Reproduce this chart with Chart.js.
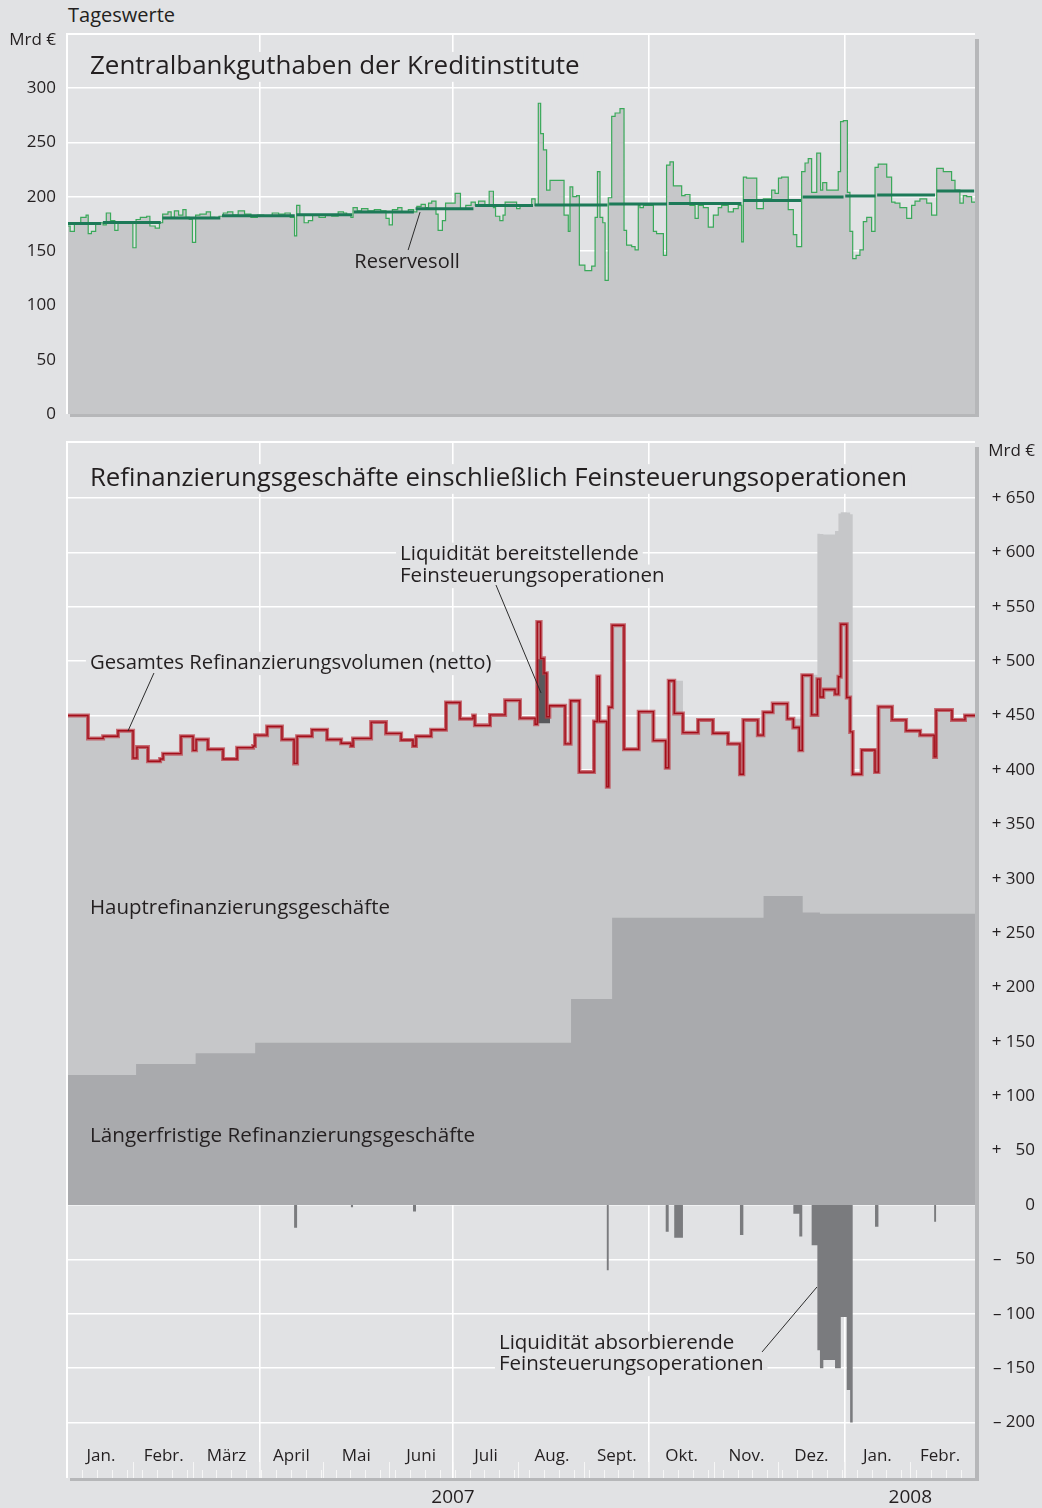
<!DOCTYPE html>
<html lang="de">
<head>
<meta charset="utf-8">
<title>Zentralbankguthaben und Refinanzierungsgeschäfte</title>
<script src="https://cdn.jsdelivr.net/npm/chart.js@4.4.1/dist/chart.umd.min.js"></script>
<style>
  html, body { margin: 0; padding: 0; }
  body { width: 1042px; height: 1508px; position: relative; overflow: hidden; background: #e1e2e4; font-family: "Open Sans", sans-serif; color: #231f20; }
  #caption { position: absolute; left: 68px; top: 2px; font-size: 20px; line-height: 26px; }
  canvas { position: absolute; left: 0; }
  #topChart { top: 0; }
  #bottomChart { top: 400px; }
</style>
</head>
<body>
<div id="caption">Tageswerte</div>
<canvas id="topChart" width="1042" height="460"></canvas>
<canvas id="bottomChart" width="1042" height="1108"></canvas>
<script>
const FONT = '"Open Sans", sans-serif';
const INK = '#231f20';
const PAGE = '#e1e2e4';
const NONE = 'rgba(0,0,0,0)';

// time axis: days counted from 1 Jan 2007
const dayMax = 426.4;
const quarterDays = [90, 181, 273, 365];
const monthStartDays = [31, 59, 90, 120, 151, 181, 212, 243, 273, 304, 334, 365, 396];
const monthMidDays = [15.5, 45, 74.5, 105, 135.5, 166, 196.5, 227.5, 258, 288.5, 319, 349.5, 380.5, 410];
const monthLabels = ['Jan.', 'Febr.', 'März', 'April', 'Mai', 'Juni', 'Juli', 'Aug.', 'Sept.', 'Okt.', 'Nov.', 'Dez.', 'Jan.', 'Febr.'];
const weekDays = [7, 14, 21, 28, 35, 42, 49, 56, 63, 70, 77, 84, 91, 98, 105, 112, 119, 126, 133, 140, 147, 154, 161, 168, 175, 182, 189, 196, 203, 210, 217, 224, 231, 238, 245, 252, 259, 266, 273, 280, 287, 294, 301, 308, 315, 322, 329, 336, 343, 350, 357, 364, 371, 378, 385, 392, 399, 406, 413, 420];
const yearTickDays = [90, 181, 273, 365, 396];
const yearTickLabels = ['', '2007', '', '', '2008'];

// top panel: Zentralbankguthaben (Mrd €), daily values as step changes
const topTicks = [0, 50, 100, 150, 200, 250, 300, 344];
const balanceDays = [0, 1, 3, 6, 8.5, 9.5, 11, 13, 16.5, 18, 20, 22, 23.5, 27, 30.5, 32, 34, 37, 38.5, 41,
  43, 44.5, 47, 48.5, 50, 52, 54, 55.5, 57, 58.5, 60, 62, 65, 67, 69, 71, 73, 75, 77.5, 80,
  83, 86, 89, 92, 96, 99, 102, 104.5, 106.5, 107.5, 109, 111, 113, 115, 118, 121, 124, 127, 129.5, 131,
  133, 134, 136, 138, 141, 144, 147, 149.5, 151, 152.5, 155, 157, 160, 162.5, 164, 166, 168, 169.5, 171, 173,
  174, 176, 177.5, 182, 184.5, 187, 189.5, 191.5, 193, 196, 198, 200, 201, 203, 204.5,
  205.5, 210.9, 212.5, 218, 219.6, 221.1, 222.2, 223.5, 225, 226.6, 233.2, 235.2, 236, 237.3, 239.1,
  240.4, 243, 246.2, 247.8, 248.9, 250.1, 251.4, 252.5, 254, 255.6, 257.2, 259.5, 261.4, 262.6, 265,
  266.6, 268.1, 268.9, 270.5, 275.2, 276.7, 279.9, 281.4, 283, 284.6, 288.5, 290.1, 292.4, 294.8, 296.3,
  298.7, 301, 303.4, 305.7, 307.3, 310.4, 312.8, 315.1, 316.7, 317.5, 319, 323.8, 326.9, 330.8, 332.4,
  334, 335.5, 338.6, 341, 342.6, 344.9, 346.5, 348, 349.6, 352, 353.8, 354.8, 356.7, 362.1, 363.2,
  364.5, 366.4, 367.6, 368.9, 370.5, 372.3, 373.9, 375.5, 377.8, 379.4, 380.9, 384.9, 387.2, 388.8, 391.1,
  394.3, 396.6, 398.2, 400.5, 403.7, 406, 408.4, 411.5, 415.4, 417, 419.3, 420.9, 422.5, 424.8, 426.4];
const balanceVals = [173, 168, 175, 181, 183, 166, 168, 176, 174, 185, 178, 169, 176, 177, 153, 179, 181, 182, 173, 171,
  176, 184, 186, 181, 187, 183, 188, 181, 179, 158, 183, 184, 186, 181, 180, 182, 185, 186, 183, 187,
  184, 181, 183, 182, 185, 184, 185, 181, 164, 192, 183, 176, 178, 183, 181, 183, 182, 186, 185, 183,
  181, 190, 187, 189, 187, 188, 187, 180, 174, 188, 190, 186, 188, 186, 191, 193, 190, 194, 196, 184,
  169, 178, 194, 203, 189, 192, 195, 192, 196, 192, 205, 190, 182, 178, 183,
  195, 189, 191, 198, 192, 286, 258, 243, 206, 215, 183, 168, 209, 200, 201,
  137, 132, 136, 181, 223, 181, 176, 123, 199, 274, 277, 281, 169, 155.5, 154,
  151, 192, 190, 192, 168, 166, 146, 229, 232, 210, 201, 202, 192, 180, 192,
  190, 172, 183, 190, 192, 186, 189, 192, 158.5, 218, 217, 189, 198, 206, 203,
  217, 218, 188, 165, 154, 223, 231, 235, 204, 240, 206, 213, 206, 223, 269,
  270, 204, 168, 143, 146, 151, 177, 181, 168, 227, 230, 218, 195, 194, 190,
  180, 192, 196, 198, 194, 183, 226, 223, 215, 206, 194, 201, 200, 195, 195];
const reserveStartDays = [0, 16, 44, 72, 107, 134, 163, 191, 219, 254, 282, 317, 345, 365, 380, 408];
const reserveVals = [175.4, 176.3, 180.3, 182.4, 183.4, 185.8, 188.9, 191.8, 192.4, 193.2, 193.8, 196.6, 199.6, 200.6, 201.6, 205.2];

// bottom panel: Refinanzierungsgeschäfte (Mrd €)
const refTicks = [-200, -150, -100, -50, 0, 50, 100, 150, 200, 250, 300, 350, 400, 450, 500, 550, 600, 650, 693];
const netDays = [0, 9.4, 16.5, 23.5, 30.6, 32.4, 37.6, 43.3, 44.7, 53.1, 58.8, 60.2, 65.8, 72.9, 79.5, 87, 87.9, 93.6, 100.6, 106.3,
  107.7, 114.7, 121.8, 128.4, 133, 134, 142.5, 149.5, 156.6, 162.2, 163.6, 170.7, 177.7, 184.3, 190.4, 191.3, 198.4, 205.5, 212.5, 219.6,
  220.6, 222.2, 223.8, 225.1, 226.3, 233.7, 236.3, 240.4, 247.3, 248.8, 249.8, 253.3, 254.2, 255.8, 261.4, 268.3, 275.2, 281, 282.4, 285,
  289.1, 296.2, 303.2, 310.3, 315.9, 317.5, 324.3, 326.9, 331.3, 338.2, 341, 343.8, 345.2, 349.6, 352.3, 353.5, 355.1, 360.6, 362.2, 363.3,
  366.1, 367.7, 368.9, 373.1, 379.4, 381, 387.4, 394, 400.6, 407.2, 408.1, 415.6, 421.7, 426.4];
const netVals = [450, 429, 431, 436, 411, 421, 408, 410, 415, 431, 418, 428, 419, 410, 420.5, 422, 432, 440, 428, 406,
  431, 437, 428, 424.5, 422, 429, 444, 433.6, 427.6, 422, 431, 437, 462, 447, 450, 441, 450.6, 464, 447.6, 442,
  536, 502.6, 489, 449, 459, 424, 463.6, 398, 444.5, 486, 444.5, 384.6, 457.6, 533, 419, 453.6, 427, 402, 482, 452,
  434.3, 446, 433.7, 424, 396, 446, 432, 453, 461, 447, 439, 418, 487, 450.6, 483.5, 467, 474, 469.7, 485.7, 534,
  466.6, 435, 396, 418.4, 398, 458, 446, 436, 432, 412, 455, 446, 450, 450];
const ltroDays = [0, 32, 60, 88, 236.5, 255.8, 327, 345.4, 353.5, 426.4];
const ltroVals = [119.5, 129.6, 139.5, 149.2, 189.4, 264.2, 284, 269, 267.8, 267.8];
const absorbDays = [0, 106.3, 107.7, 133, 134, 162.2, 163.6, 253.3, 254.2, 281, 282.4, 285, 289.1, 315.9, 317.5, 341,
  343.8, 345.2, 349.6, 352.3, 353.5, 355.1, 360.6, 363.3, 366.1, 367.7, 368.9, 379.4, 381, 407.2, 408.1, 426.4];
const absorbVals = [0, -21, 0, -2, 0, -6, 0, -60, 0, -24.5, 0, -30, 0, -27.6, 0, -8,
  -29, 0, -37, -133.6, -150, -142.5, -150, -103, -170, -200, 0, -20, 0, -15.3, 0, 0];
const provideDays = [220.6, 223.5, 225.1, 226.6];
const provideVals = [502, 490, 449, 449];
const provideBase = 443;

const steps = (days, vals) => days.map((d, i) => ({ x: d, y: vals[i] }));

function valueAt(days, vals, d) {
  let v = vals[0];
  for (let i = 0; i < days.length && days[i] <= d; i++) v = vals[i];
  return v;
}

// gross volume = net volume plus the absorbed liquidity
const grossDays = [...new Set(netDays.concat(absorbDays))].sort((a, b) => a - b);
const grossVals = grossDays.map(d => valueAt(netDays, netVals, d) - valueAt(absorbDays, absorbVals, d));

// reserve requirement: one flat segment per maintenance period
const reservePoints = [];
reserveStartDays.forEach((d, i) => {
  const end = i + 1 < reserveStartDays.length ? reserveStartDays[i + 1] : dayMax;
  reservePoints.push({ x: d + (i ? 0.4 : 0), y: reserveVals[i] }, { x: end - 0.4, y: reserveVals[i] }, { x: end, y: null });
});

const framePlugin = {
  id: 'frame',
  beforeDatasetsDraw(chart) {
    const { ctx, chartArea: a } = chart;
    ctx.save();
    ctx.strokeStyle = '#ffffff';
    ctx.lineWidth = 2;
    ctx.beginPath();
    ctx.moveTo(a.left - 1, a.bottom);
    ctx.lineTo(a.left - 1, a.top - 1);
    ctx.lineTo(a.right, a.top - 1);
    ctx.stroke();
    ctx.restore();
  },
  afterDraw(chart) {
    const { ctx, chartArea: a } = chart;
    ctx.save();
    ctx.fillStyle = '#b6b7b9';
    ctx.fillRect(a.right, a.top + 4, 4, a.bottom - a.top - 1);
    ctx.fillRect(a.left + 2, a.bottom, a.right - a.left + 2, 3);
    ctx.restore();
  }
};

const notesPlugin = {
  id: 'notes',
  afterDatasetsDraw(chart, args, opts) {
    const { ctx } = chart;
    const sx = chart.scales.x, sy = chart.scales.y;
    ctx.save();
    (opts.items || []).forEach(it => {
      ctx.font = it.size + 'px ' + FONT;
      const x = sx.getPixelForValue(it.day);
      const y = sy.getPixelForValue(it.value);
      const w = ctx.measureText(it.text).width;
      const left = it.align === 'center' ? x - w / 2 : x;
      if (it.box) {
        ctx.fillStyle = PAGE;
        ctx.fillRect(left - 4, y - it.size * 0.85, w + 8, it.size * 1.15);
      }
      ctx.fillStyle = INK;
      ctx.textAlign = 'left';
      ctx.textBaseline = 'alphabetic';
      ctx.fillText(it.text, left, y);
    });
    ctx.strokeStyle = '#2b2b2b';
    ctx.lineWidth = 1;
    (opts.leaders || []).forEach(l => {
      ctx.beginPath();
      ctx.moveTo(sx.getPixelForValue(l[0]), sy.getPixelForValue(l[1]));
      ctx.lineTo(sx.getPixelForValue(l[2]), sy.getPixelForValue(l[3]));
      ctx.stroke();
    });
    ctx.restore();
  }
};

Chart.defaults.font.family = FONT;
Chart.defaults.color = INK;

new Chart(document.getElementById('topChart'), {
  type: 'line',
  data: {
    datasets: [
      {
        label: 'Reservesoll',
        data: reservePoints,
        borderColor: '#1d7a58',
        borderWidth: 3,
        pointRadius: 0,
        fill: false,
        spanGaps: false,
        order: 1
      },
      {
        label: 'Zentralbankguthaben',
        data: steps(balanceDays, balanceVals),
        stepped: true,
        borderColor: '#3aa95a',
        borderWidth: 1.2,
        backgroundColor: '#c6c7c9',
        fill: 'origin',
        pointRadius: 0,
        order: 2
      }
    ]
  },
  options: {
    responsive: false,
    animation: false,
    events: [],
    layout: { padding: { left: 0, right: 67, top: 35, bottom: 46 } },
    scales: {
      x: {
        type: 'linear',
        min: 0,
        max: dayMax,
        afterBuildTicks: a => { a.ticks = quarterDays.map(v => ({ value: v })); },
        afterFit: a => { a.height = 0; },
        ticks: { display: false },
        grid: { color: '#ffffff', lineWidth: 1.6, drawTicks: false },
        border: { display: false }
      },
      y: {
        min: 0,
        max: 348.8,
        afterBuildTicks: a => { a.ticks = topTicks.map(v => ({ value: v })); },
        afterFit: a => { a.width = 68; },
        grid: {
          color: c => (c.tick && (c.tick.value > 300 || c.tick.value === 0)) ? NONE : '#ffffff',
          lineWidth: 1.6,
          drawTicks: false
        },
        border: { display: false },
        ticks: {
          padding: 12,
          color: INK,
          font: { size: 17 },
          callback: v => v > 300 ? 'Mrd €' : String(v)
        }
      }
    },
    plugins: {
      legend: { display: false },
      tooltip: { enabled: false },
      notes: {
        items: [
          { text: 'Zentralbankguthaben der Kreditinstitute', day: 10.3, value: 312.9, size: 26, box: true },
          { text: 'Reservesoll', day: 159.4, value: 134.1, size: 20, align: 'center' }
        ],
        leaders: [[159.9, 150.9, 165.5, 185.8]]
      }
    }
  },
  plugins: [framePlugin, notesPlugin]
});

function refLabel(v) {
  if (v > 650) return 'Mrd €';
  if (v === 0) return '0';
  const n = String(Math.abs(v)).padStart(3, '\u2007');
  return (v > 0 ? '+ ' : '\u2013 ') + n;
}

const yBottom = -251;

new Chart(document.getElementById('bottomChart'), {
  type: 'line',
  data: {
    datasets: [
      {
        label: 'Gesamtvolumen (brutto)',
        data: steps(grossDays, grossVals),
        stepped: true,
        borderColor: NONE,
        borderWidth: 0,
        backgroundColor: '#c6c7c9',
        fill: 'origin',
        pointRadius: 0,
        xAxisID: 'x', yAxisID: 'y',
        order: 7
      },
      {
        label: 'Längerfristige Refinanzierungsgeschäfte',
        data: steps(ltroDays, ltroVals),
        stepped: true,
        borderColor: NONE,
        borderWidth: 0,
        backgroundColor: '#a9aaad',
        fill: 'origin',
        pointRadius: 0,
        xAxisID: 'x', yAxisID: 'y',
        order: 6
      },
      {
        label: 'Liquidität absorbierende Feinsteuerungsoperationen',
        data: steps(absorbDays, absorbVals),
        stepped: true,
        borderColor: NONE,
        borderWidth: 0,
        backgroundColor: '#7a7b7e',
        fill: 'origin',
        pointRadius: 0,
        xAxisID: 'x', yAxisID: 'y',
        order: 5
      },
      {
        label: 'Liquidität bereitstellende Feinsteuerungsoperationen',
        data: steps(provideDays, provideVals),
        stepped: true,
        borderColor: NONE,
        borderWidth: 0,
        backgroundColor: '#58595c',
        fill: { value: provideBase },
        pointRadius: 0,
        xAxisID: 'x', yAxisID: 'y',
        order: 4
      },
      {
        label: 'Gesamtes Refinanzierungsvolumen (netto)',
        data: steps(netDays, netVals),
        stepped: true,
        borderColor: 'rgba(188,58,68,0.7)',
        borderWidth: 4,
        fill: false,
        pointRadius: 0,
        xAxisID: 'x', yAxisID: 'y',
        order: 2
      },
      {
        label: 'netto (Kern)',
        data: steps(netDays, netVals),
        stepped: true,
        borderColor: '#a30e1a',
        borderWidth: 1.4,
        fill: false,
        pointRadius: 0,
        xAxisID: 'x', yAxisID: 'y',
        order: 1
      }
    ]
  },
  options: {
    responsive: false,
    animation: false,
    events: [],
    layout: { padding: { left: 68, right: 7, top: 43, bottom: 0 } },
    scales: {
      x: {
        type: 'linear',
        position: 'bottom',
        min: 0,
        max: dayMax,
        afterBuildTicks: a => { a.ticks = yearTickDays.map(v => ({ value: v })); },
        afterFit: a => { a.height = 30; },
        grid: {
          color: c => (c.tick && c.tick.value === 396) ? NONE : '#ffffff',
          lineWidth: 1.6,
          drawTicks: false
        },
        border: { display: false },
        ticks: {
          autoSkip: false,
          maxRotation: 0,
          padding: 8,
          color: INK,
          font: { size: 19 },
          callback: (v, i) => yearTickLabels[i]
        }
      },
      xMonths: {
        type: 'linear',
        axis: 'x',
        position: { y: yBottom },
        min: 0,
        max: dayMax,
        afterBuildTicks: a => { a.ticks = monthMidDays.map(v => ({ value: v })); },
        grid: { display: false, drawTicks: false },
        border: { display: false },
        ticks: {
          autoSkip: false,
          maxRotation: 0,
          padding: -32,
          color: INK,
          font: { size: 17 },
          callback: (v, i) => monthLabels[i]
        }
      },
      xWeeks: {
        type: 'linear',
        axis: 'x',
        position: { y: yBottom },
        min: 0,
        max: dayMax,
        afterBuildTicks: a => { a.ticks = weekDays.map(v => ({ value: v })); },
        grid: { drawOnChartArea: false, drawTicks: true, tickLength: -8, color: '#f6f6f6', lineWidth: 1 },
        border: { display: false },
        ticks: { display: false, autoSkip: false }
      },
      xMonthTicks: {
        type: 'linear',
        axis: 'x',
        position: { y: yBottom },
        min: 0,
        max: dayMax,
        afterBuildTicks: a => { a.ticks = monthStartDays.map(v => ({ value: v })); },
        grid: { drawOnChartArea: false, drawTicks: true, tickLength: -16, color: '#f6f6f6', lineWidth: 1 },
        border: { display: false },
        ticks: { display: false, autoSkip: false }
      },
      y: {
        position: 'right',
        min: yBottom,
        max: 700.6,
        afterBuildTicks: a => { a.ticks = refTicks.map(v => ({ value: v })); },
        afterFit: a => { a.width = 60; },
        grid: {
          color: c => (c.tick && c.tick.value > 650) ? NONE : '#ffffff',
          lineWidth: 1.6,
          drawTicks: false
        },
        border: { display: false },
        ticks: {
          crossAlign: 'far',
          padding: 0,
          color: INK,
          font: { size: 17 },
          callback: v => refLabel(v)
        }
      }
    },
    plugins: {
      legend: { display: false },
      tooltip: { enabled: false },
      notes: {
        items: [
          { text: 'Refinanzierungsgeschäfte einschließlich Feinsteuerungsoperationen', day: 10.3, value: 661, size: 25.8, box: true },
          { text: 'Gesamtes Refinanzierungsvolumen (netto)', day: 10.3, value: 492.8, size: 20.3, box: true },
          { text: 'Liquidität bereitstellende', day: 156.1, value: 593, size: 20.5, box: true },
          { text: 'Feinsteuerungsoperationen', day: 156.1, value: 572.8, size: 20.5, box: true },
          { text: 'Hauptrefinanzierungsgeschäfte', day: 10.3, value: 267.5, size: 20.5 },
          { text: 'Längerfristige Refinanzierungsgeschäfte', day: 10.3, value: 57.9, size: 20.7 },
          { text: 'Liquidität absorbierende', day: 202.6, value: -132.4, size: 20.5, box: true },
          { text: 'Feinsteuerungsoperationen', day: 202.6, value: -151.7, size: 20.5, box: true }
        ],
        leaders: [
          [28.2, 435.8, 40.4, 489.1],
          [201.2, 570, 222.4, 470.7],
          [326.3, -135.1, 352.1, -75.4]
        ]
      }
    }
  },
  plugins: [framePlugin, notesPlugin]
});
</script>
</body>
</html>
